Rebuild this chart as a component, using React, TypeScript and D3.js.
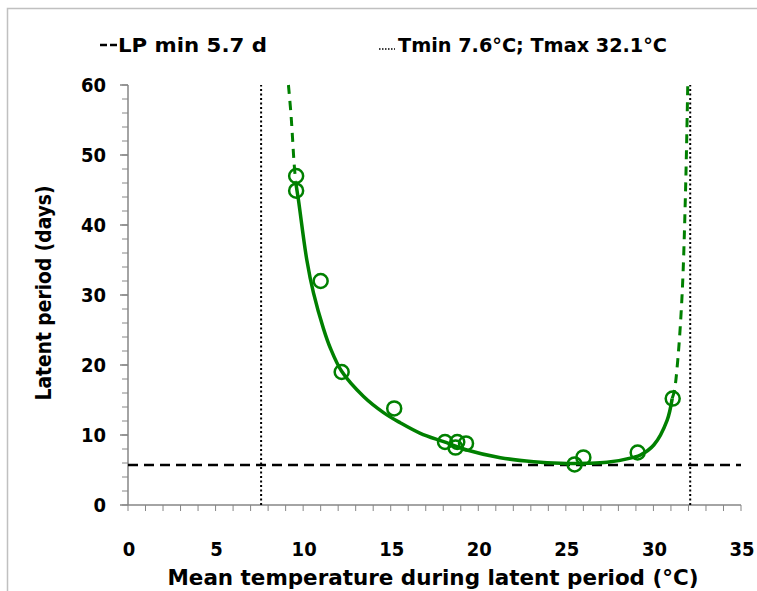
import React from "react";
import * as d3 from "d3";

const obsTemp = [9.6, 9.6, 11.0, 12.2, 15.2, 18.1, 18.7, 18.8, 19.3, 25.5, 26.0, 29.1, 31.1];
const obsLP = [47.0, 44.9, 32.0, 19.0, 13.8, 9.0, 8.2, 9.0, 8.8, 5.8, 6.8, 7.5, 15.2];

const fitTemp = [9.57, 9.73, 10.21, 10.59, 11.16, 11.54, 12.2, 13.45, 14.59, 15.54, 16.69, 18.02, 19.35, 21.26, 23.16, 24.69, 26.21, 27.35, 28.87, 29.26, 30.02, 30.78, 31.07];
const fitLP = [46.2, 43.6, 35.0, 30.3, 25.2, 22.5, 19.1, 15.5, 13.2, 11.75, 10.24, 9.04, 7.86, 6.76, 6.19, 5.96, 5.96, 6.1, 6.81, 7.14, 8.57, 12.1, 15.2];

const extLeftTemp = [9.16, 9.30, 9.39, 9.47, 9.57];
const extLeftLP = [60.0, 56.0, 52.6, 49.3, 46.2];
const extRightTemp = [31.07, 31.2, 31.39, 31.64, 31.83, 31.96];
const extRightLP = [15.2, 16.4, 20.7, 30.2, 44.5, 60.0];

const lpMin = 5.7;
const tMin = 7.6;
const tMax = 32.1;

const xTicks = [0, 5, 10, 15, 20, 25, 30, 35];
const yTicks = [0, 10, 20, 30, 40, 50, 60];

const legendLabels = ["LP min 5.7 d", "Tmin 7.6°C; Tmax 32.1°C"];
const xTitle = "Mean temperature during latent period (°C)";
const yTitle = "Latent period (days)";

const FONT = "'DejaVu Sans Condensed', Carlito, 'Liberation Sans Narrow', 'Open Sans', sans-serif";
const GREEN = "#008000";

export default function App() {
  const W = 757, H = 591;
  const x = d3.scaleLinear().domain([0, 35]).range([128, 741]);
  const y = d3.scaleLinear().domain([0, 60]).range([505, 85]);
  const line = d3.line<[number, number]>().x(d => x(d[0])).y(d => y(d[1])).curve(d3.curveCatmullRom.alpha(0.5));
  const zip = (a: number[], b: number[]) => a.map((v, i) => [v, b[i]] as [number, number]);
  const minorX = d3.range(0, 36, 1);
  const minorY = d3.range(0, 61, 2);
  const axisColor = "#868686";

  return (
    <svg width={W} height={H} style={{ position: "absolute", left: 0, top: 0 }} fontFamily={FONT}>
      <rect x={0} y={0} width={W} height={H} fill="#fff" />
      <path d={`M7.5,${H}V8.5H${W}`} fill="none" stroke="#c0c0c0" strokeWidth={1.5} />

      {/* legend */}
      <line x1={100} x2={107} y1={45} y2={45} stroke="#000" strokeWidth={2.5} />
      <line x1={110} x2={117} y1={45} y2={45} stroke="#000" strokeWidth={2.5} />
      <text x={118} y={52} fontSize={20} fontWeight="bold" textLength={149} lengthAdjust="spacingAndGlyphs">{legendLabels[0]}</text>
      <line x1={379} x2={395} y1={49} y2={49} stroke="#000" strokeWidth={1.5} strokeDasharray="1.5,1.5" />
      <text x={398} y={52} fontSize={20} fontWeight="bold" textLength={269} lengthAdjust="spacingAndGlyphs">{legendLabels[1]}</text>

      {/* axes */}
      <line x1={x(0)} x2={x(35)} y1={y(0)} y2={y(0)} stroke={axisColor} strokeWidth={1.5} />
      <line x1={x(0)} x2={x(0)} y1={y(0)} y2={y(60)} stroke={axisColor} strokeWidth={1.5} />
      {minorX.map(t => (
        <line key={"mx" + t} x1={x(t)} x2={x(t)} y1={y(0)} y2={y(0) + 6} stroke={axisColor} strokeWidth={1} />
      ))}
      {minorY.map(t => (
        <line key={"my" + t} x1={x(0) - 6} x2={x(0)} y1={y(t)} y2={y(t)} stroke={axisColor} strokeWidth={1} />
      ))}
      {yTicks.map(t => (
        <line key={"My" + t} x1={x(0) - 8} x2={x(0)} y1={y(t)} y2={y(t)} stroke={axisColor} strokeWidth={1.5} />
      ))}
      {xTicks.map(t => (
        <text key={"xt" + t} x={x(t) + 1} y={556} fontSize={20} fontWeight="bold" textAnchor="middle">{t}</text>
      ))}
      {yTicks.map(t => (
        <text key={"yt" + t} x={106} y={y(t) + 7} fontSize={20} fontWeight="bold" textAnchor="end">{t}</text>
      ))}
      <text x={433} y={585} fontSize={22} fontWeight="bold" textAnchor="middle" textLength={531} lengthAdjust="spacingAndGlyphs">{xTitle}</text>
      <text transform={`translate(51,293) rotate(-90)`} fontSize={22} fontWeight="bold" textAnchor="middle" textLength={215} lengthAdjust="spacingAndGlyphs">{yTitle}</text>

      {/* reference lines */}
      <line x1={x(0)} x2={x(35)} y1={y(lpMin)} y2={y(lpMin)} stroke="#000" strokeWidth={2.5} strokeDasharray="10,6" />
      <line x1={x(tMin)} x2={x(tMin)} y1={y(0)} y2={y(60)} stroke="#000" strokeWidth={2} strokeDasharray="2,2.5" />
      <line x1={x(tMax)} x2={x(tMax)} y1={y(0)} y2={y(60)} stroke="#000" strokeWidth={2} strokeDasharray="2,2.5" />

      {/* fitted curve */}
      <path d={line(zip(extLeftTemp, extLeftLP)) || ""} fill="none" stroke={GREEN} strokeWidth={3} strokeDasharray="9,7" />
      <path d={line(zip(extRightTemp, extRightLP)) || ""} fill="none" stroke={GREEN} strokeWidth={3} strokeDasharray="9,7" />
      <path d={line(zip(fitTemp, fitLP)) || ""} fill="none" stroke={GREEN} strokeWidth={3.5} />

      {/* observations */}
      {obsTemp.map((t, i) => (
        <circle key={"o" + i} cx={x(t)} cy={y(obsLP[i])} r={7} fill="none" stroke={GREEN} strokeWidth={2.5} />
      ))}
    </svg>
  );
}
